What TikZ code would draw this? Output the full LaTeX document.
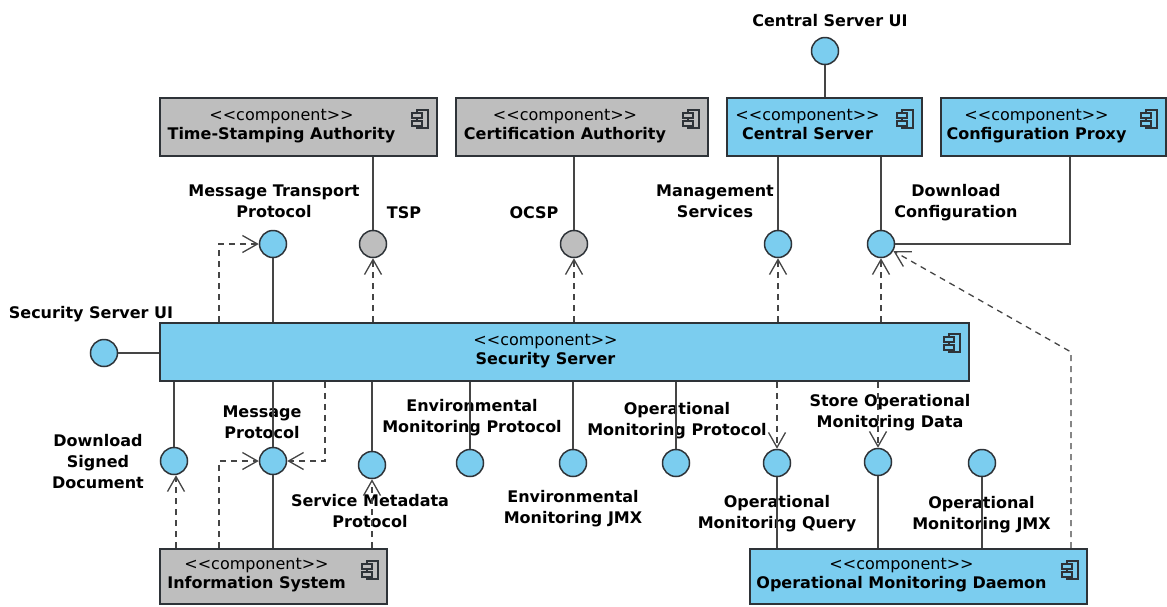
\documentclass[tikz,border=0pt]{standalone}
\usepackage{fontspec}
\setmainfont{DejaVu Sans}
\usetikzlibrary{arrows.meta}
\definecolor{bluefill}{HTML}{7BCDEF}
\definecolor{grayfill}{HTML}{BEBEBE}
\definecolor{edge}{HTML}{2E3338}
\definecolor{conncol}{HTML}{454545}
\newcommand{\stereotype}{<{}<component>{}>}
\tikzset{
  comp/.style={draw=edge, line width=1.8pt, minimum height=58pt, inner sep=0pt},
  bcomp/.style={comp, fill=bluefill},
  gcomp/.style={comp, fill=grayfill},
  ctext/.style={align=center, inner sep=0pt, font=\fontsize{16}{19}\selectfont,
    execute at begin node=\strut, execute at end node=\strut},
  lbl/.style={align=center, inner sep=0pt, font=\fontsize{16}{21}\selectfont\bfseries,
    execute at begin node=\strut, execute at end node=\strut, yshift=-2.5pt},
  iface/.style={circle, draw=edge, line width=1.5pt, minimum size=27pt, inner sep=0pt, fill=bluefill},
  giface/.style={iface, fill=grayfill},
  conn/.style={draw=conncol, line width=1.5pt},
  dep/.style={draw=conncol, line width=1.3pt, dash pattern=on 6pt off 5pt, -{Straight Barb[length=15pt,width=17pt]}},
  compicon/.pic={
    \draw[draw=edge, line width=1.3pt] (-3,-9) rectangle (8,9);
    \draw[draw=edge, line width=1.3pt, fill=#1] (-8,-6) rectangle (2,-1);
    \draw[draw=edge, line width=1.3pt, fill=#1] (-8,2) rectangle (2,7);
  }
}
\begin{document}
\begin{tikzpicture}[x=1pt,y=-1pt]
\useasboundingbox (0,0) rectangle (1167,606);
% components
\node[gcomp, minimum width=277pt] (tsa) at (298.5,127) {};
\node[gcomp, minimum width=252pt] (ca) at (582,127) {};
\node[bcomp, minimum width=195pt] (cs) at (824.5,127) {};
\node[bcomp, minimum width=225pt] (cp) at (1053.5,127) {};
\node[bcomp, minimum width=809pt] (ss) at (564.5,352) {};
\node[gcomp, minimum width=227pt, minimum height=55pt] (is) at (273.5,576.5) {};
\node[bcomp, minimum width=337pt, minimum height=55pt] (omd) at (918.5,576.5) {};
% component texts
\node[ctext] (tsat) at ([xshift=-17pt]tsa.center) {\stereotype\\\textbf{Time-Stamping Authority}};
\node[ctext] (cat) at ([xshift=-17pt]ca.center) {\stereotype\\\textbf{Certification Authority}};
\node[ctext] (cst) at ([xshift=-17pt]cs.center) {\stereotype\\\textbf{Central Server}};
\node[ctext] (cpt) at ([xshift=-17pt]cp.center) {\stereotype\\\textbf{Configuration Proxy}};
\node[ctext] (sst) at ([xshift=-19pt]ss.center) {\stereotype\\\textbf{Security Server}};
\node[ctext] (ist) at ([xshift=-17pt]is.center) {\stereotype\\\textbf{Information System}};
\node[ctext] (omdt) at ([xshift=-17pt]omd.center) {\stereotype\\\textbf{Operational Monitoring Daemon}};
% icons
\pic at ([xshift=-18pt,yshift=-22pt]tsa.north east) {compicon=grayfill};
\pic at ([xshift=-18pt,yshift=-22pt]ca.north east) {compicon=grayfill};
\pic at ([xshift=-18pt,yshift=-22pt]cs.north east) {compicon=bluefill};
\pic at ([xshift=-18pt,yshift=-22pt]cp.north east) {compicon=bluefill};
\pic at ([xshift=-18pt,yshift=-21pt]ss.north east) {compicon=bluefill};
\pic at ([xshift=-18pt,yshift=-22pt]is.north east) {compicon=grayfill};
\pic at ([xshift=-18pt,yshift=-22pt]omd.north east) {compicon=bluefill};
% interfaces
\node[iface] (csui) at (825,51) {};
\node[iface] (ssui) at (104,353) {};
\node[iface] (mtp) at (273,244) {};
\node[giface] (tsp) at (373,244) {};
\node[giface] (ocsp) at (574,244) {};
\node[iface] (ms) at (778,244) {};
\node[iface] (dc) at (881,244) {};
\node[iface] (dsd) at (174,461) {};
\node[iface] (mp) at (273,461) {};
\node[iface] (smp) at (372,465) {};
\node[iface] (emp) at (470,463) {};
\node[iface] (emj) at (573,463) {};
\node[iface] (omp) at (676,463) {};
\node[iface] (omq) at (777,463) {};
\node[iface] (somd) at (878,462) {};
\node[iface] (omj) at (982,463) {};
% labels
\node[lbl] (csuil) at (830,20) {Central Server UI};
\node[lbl] (ssuil) at (91,312) {Security Server UI};
\node[lbl] (mtpl) at (274,201.5) {Message Transport\\Protocol};
\node[lbl] (tspl) at (404,212) {TSP};
\node[lbl] (ocspl) at (534,212) {OCSP};
\node[lbl] (msl) at (715,201.5) {Management\\Services};
\node[lbl] (dcl) at (956,201.5) {Download\\Configuration};
\node[lbl] (dsdl) at (98,462) {Download\\Signed\\Document};
\node[lbl] (mpl) at (262,423) {Message\\Protocol};
\node[lbl] (smpl) at (370,512) {Service Metadata\\Protocol};
\node[lbl] (empl) at (472,416.5) {Environmental\\Monitoring Protocol};
\node[lbl] (emjl) at (573,508) {Environmental\\Monitoring JMX};
\node[lbl] (ompl) at (677,419.5) {Operational\\Monitoring Protocol};
\node[lbl] (omql) at (777,513) {Operational\\Monitoring Query};
\node[lbl] (somdl) at (890,412) {Store Operational\\Monitoring Data};
\node[lbl] (omjl) at (981.5,514) {Operational\\Monitoring JMX};
% helper coordinates
\coordinate (mtpb) at (219,244);
\coordinate (cpb) at (1070,244);
\coordinate (mpa) at (219,461);
\coordinate (mpb) at (325,461);
\coordinate (dsdb) at (176,461);
\coordinate (dcb) at (1071,352);
% solid connectors
\draw[conn] (csui) -- (cs.north -| csui);
\draw[conn] (ssui) -- (ss.west |- ssui);
\draw[conn] (tsa.south -| tsp) -- (tsp);
\draw[conn] (ca.south -| ocsp) -- (ocsp);
\draw[conn] (cs.south -| ms) -- (ms);
\draw[conn] (cs.south -| dc) -- (dc);
\draw[conn] (cp.south -| cpb) -- (cpb) -- (dc);
\draw[conn] (mtp) -- (ss.north -| mtp);
\draw[conn] (ss.south -| dsd) -- (dsd);
\draw[conn] (ss.south -| mp) -- (mp);
\draw[conn] (mp) -- (is.north -| mp);
\draw[conn] (ss.south -| smp) -- (smp);
\draw[conn] (ss.south -| emp) -- (emp);
\draw[conn] (ss.south -| emj) -- (emj);
\draw[conn] (ss.south -| omp) -- (omp);
\draw[conn] (omq) -- (omd.north -| omq);
\draw[conn] (somd) -- (omd.north -| somd);
\draw[conn] (omj) -- (omd.north -| omj);
% dependencies
\draw[dep] (ss.north -| mtpb) -- (mtpb) -- (mtp);
\draw[dep] (ss.north -| tsp) -- (tsp);
\draw[dep] (ss.north -| ocsp) -- (ocsp);
\draw[dep] (ss.north -| ms) -- (ms);
\draw[dep] (ss.north -| dc) -- (dc);
\draw[dep] (omd.north -| dcb) -- (dcb) -- (dc);
\draw[dep] (is.north -| dsdb) -- (dsdb |- dsd.south);
\draw[dep] (is.north -| mpa) -- (mpa) -- (mp);
\draw[dep] (ss.south -| mpb) -- (mpb) -- (mp);
\draw[dep] (is.north -| smp) -- (smp);
\draw[dep] (ss.south -| omq) -- (omq);
\draw[dep] (ss.south -| somd) -- (somd);
\end{tikzpicture}
\end{document}
